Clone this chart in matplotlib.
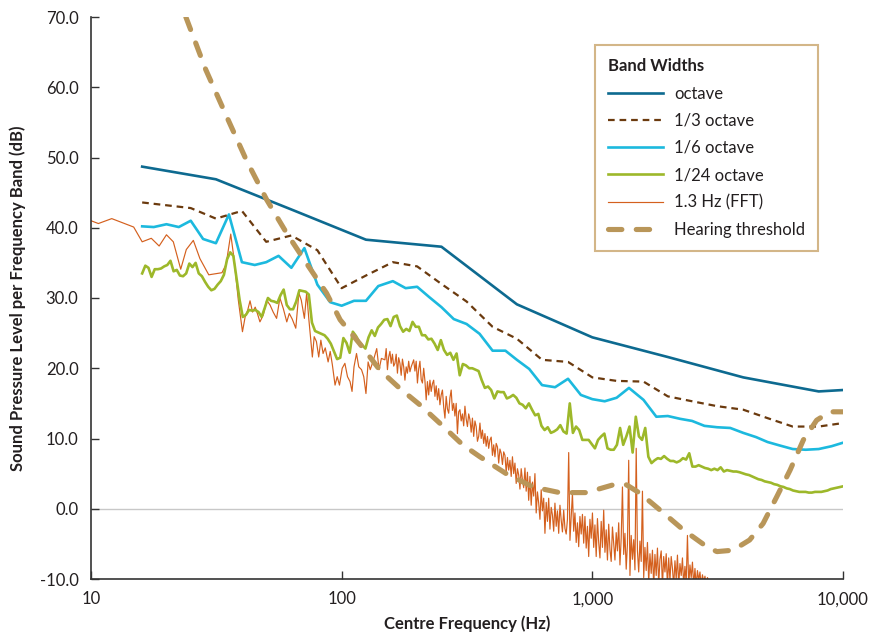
import numpy as np
import matplotlib
matplotlib.use("Agg")
import matplotlib.pyplot as plt
from matplotlib.ticker import FixedLocator, FixedFormatter, NullLocator

# ---------------- data ----------------
oct_f = [16, 31.5, 63, 125, 250, 500, 1000, 2000, 4000, 8000, 10000]
oct_db = [48.7, 46.9, 42.6, 38.3, 37.3, 29.1, 24.4, 21.6, 18.7, 16.7, 16.9]

third_f = [16, 20, 25, 31.5, 40, 50, 63, 80, 100, 125, 160, 200, 250, 315, 400,
           500, 630, 800, 1000, 1250, 1600, 2000, 2500, 3150, 4000, 5000, 6300,
           8000, 10000]
third_db = [43.6, 43.2, 42.8, 41.3, 42.4, 38.0, 38.9, 36.8, 31.4, 33.2, 35.1,
            34.5, 32.0, 29.5, 25.9, 24.2, 21.2, 20.9, 18.7, 18.2, 18.1, 16.0,
            15.3, 14.6, 14.1, 12.9, 11.7, 11.7, 12.2]

sixth_f = [16, 17.8, 20, 22.4, 25, 28, 31.5, 35.5, 40, 45, 50, 56, 63, 71, 80,
           90, 100, 112, 125, 140, 160, 180, 200, 224, 250, 280, 315, 355, 400,
           450, 500, 560, 630, 710, 800, 900, 1000, 1120, 1250, 1400, 1600,
           1800, 2000, 2240, 2500, 2800, 3150, 3550, 4000, 4500, 5000, 5600,
           6300, 7100, 8000, 9000, 10000]
sixth_db = [40.2, 40.1, 40.5, 40.1, 41.0, 38.4, 37.8, 41.9, 35.1, 34.7, 35.1,
            36.0, 34.3, 37.1, 31.9, 29.4, 28.9, 29.6, 29.6, 31.7, 32.4, 31.4,
            31.6, 30.1, 28.7, 27.0, 26.3, 24.9, 22.5, 22.5, 21.2, 19.9, 17.6,
            17.3, 18.5, 16.2, 15.6, 15.3, 15.8, 17.2, 15.5, 13.1, 13.2, 12.8,
            12.5, 11.8, 11.6, 11.5, 10.8, 10.2, 9.5, 9.0, 8.5, 8.4, 8.5, 8.9,
            9.4]

# 1/24 octave bands starting at 16 Hz
f24_start = 16.0
db24 = [
    33.5, 34.6, 34.3, 33.0, 34.1, 34.1, 34.2, 34.5, 34.7, 35.3,
    33.8, 34.0, 33.2, 33.1, 33.5, 34.9, 34.4, 35.0, 33.5, 33.1,
    32.3, 31.6, 31.1, 31.3, 31.9, 32.4, 33.3, 35.5, 36.5, 36.0,
    32.8, 29.7, 27.3, 27.6, 28.3, 28.2, 28.3, 28.0, 27.3, 28.6,
    30.0, 29.6, 29.5, 29.3, 30.4, 31.2, 29.0, 28.4, 28.4, 29.5,
    31.1, 31.0, 30.9, 30.5, 26.5, 25.3, 25.1, 24.9, 24.7, 24.2,
    23.5, 22.4, 21.3, 21.5, 24.3, 23.6, 22.2, 25.2, 24.6, 23.8,
    23.3, 22.8, 24.4, 25.4, 24.6, 25.8, 26.3, 26.9, 27.0, 26.0,
    27.3, 27.5, 26.0, 25.2, 25.6, 25.3, 26.6, 25.9, 25.9, 24.7,
    24.7, 24.1, 24.2, 23.5, 22.6, 24.0, 22.6, 21.9, 22.2, 21.2,
    22.1, 19.0, 20.6, 20.4, 20.0, 20.0, 19.8, 19.6, 18.3, 17.2,
    17.4, 16.9, 15.7, 16.7, 16.6, 16.6, 15.7, 15.9, 16.2, 15.8,
    15.0, 14.8, 14.3, 15.0, 14.1, 13.3, 13.5, 11.8, 11.2, 11.6,
    10.8, 11.0, 11.3, 11.9, 11.0, 10.7, 15.0, 10.8, 11.7, 11.2,
    9.8, 9.8, 9.8, 9.2, 8.6, 9.8, 10.3, 10.7, 8.6, 8.4,
    8.4, 9.1, 11.5, 9.1, 10.3, 11.7, 8.0, 13.1, 10.3, 9.8,
    11.5, 7.4, 6.5, 6.9, 7.2, 7.1, 7.5, 7.1, 6.8, 6.8,
    6.6, 6.8, 7.2, 7.0, 7.9, 6.0, 6.0, 6.2, 6.0, 5.8,
    5.7, 5.5, 5.7, 5.5, 5.9, 5.3, 5.5, 5.4, 5.3, 5.3,
    5.2, 5.05, 4.9, 4.8, 4.6, 4.4, 4.2, 4.1, 3.9, 3.8,
    3.7, 3.5, 3.4, 3.2, 3.1, 2.9, 2.8, 2.6, 2.5, 2.4,
    2.4, 2.4, 2.3, 2.3, 2.4, 2.4, 2.4, 2.5, 2.6, 2.8,
    2.9, 3.0, 3.1, 3.2,
]

# FFT (1.3 Hz) - low-frequency part, individual points
fft_lo_f = [10, 10.7, 12.1, 13.4, 14.8, 16.0, 17.4, 18.7, 20.0, 21.3, 22.8,
            24.0, 25.6, 27.2, 29.5, 33.3, 34.6, 36.1, 37.2, 38.7, 40.2, 41.2,
            42.2, 43.1, 44.1, 45.2, 46.2, 47.2, 48.7, 50.2, 51.8, 53.3, 55.0,
            56.7, 58.5, 60.4, 61.8, 63.5, 65.6, 67.5, 69.0, 71.0, 72.5, 74.0,
            76.4, 77.7, 79.3, 81.0, 82.6, 84.3, 86.0, 88.3, 90.0, 91.8, 94.1,
            96.0, 98.0, 100.5, 103.0, 105.5, 108.0, 110.0, 112.0, 114.6,
            117.0, 120.0, 122.5, 125.0, 127.5, 130.0, 134.0, 138.0, 141.0,
            144.0]
fft_lo_db = [41.0, 40.6, 41.3, 40.7, 40.1, 38.0, 38.5, 37.4, 39.0, 38.0, 34.1,
             36.9, 38.2, 35.6, 33.3, 33.6, 34.8, 39.1, 35.6, 29.7, 25.2, 27.3,
             28.3, 29.6, 28.0, 28.7, 27.7, 26.6, 27.6, 29.7, 29.0, 28.0, 27.1,
             30.0, 28.5, 26.6, 27.8, 27.0, 25.7, 30.7, 29.7, 27.1, 30.7, 26.9,
             21.6, 24.5, 23.8, 21.6, 24.0, 22.1, 22.9, 20.9, 22.4, 20.5, 17.6,
             18.8, 17.6, 20.0, 20.7, 18.8, 18.1, 16.7, 20.2, 22.1,
             20.2, 19.8, 18.8, 16.4, 20.9, 19.8, 21.2, 22.8, 19.8,
             21.4]

# FFT - dense part, evenly spaced (log) from 149 Hz to 2980 Hz
fft_hi_start, fft_hi_stop = 148.8, 2980.0
fft_hi_db = [
    21.2, 22.8, 19.8, 21.6, 22.4, 20.7, 22.0, 20.3,
    20.7, 22.0, 19.3, 21.5, 20.7, 19.0, 21.3, 20.2,
    18.3, 20.2, 19.3, 21.0, 19.5, 20.2, 20.7, 21.2,
    19.6, 21.0, 17.9, 19.9, 21.0, 18.4, 17.9, 20.0,
    18.2, 15.5, 18.1, 16.2, 18.3, 16.7, 17.8, 18.3,
    16.0, 17.5, 15.5, 17.1, 14.8, 16.2, 16.9, 14.5,
    12.9, 16.0, 14.2, 13.6, 15.8, 16.9, 14.0, 15.0,
    13.2, 15.0, 10.7, 13.8, 14.1, 12.5, 13.5, 11.8,
    14.6, 12.8, 11.7, 13.5, 12.7, 10.9, 12.9, 10.3,
    12.5, 11.7, 9.6, 10.3, 12.2, 10.0, 11.2, 9.3,
    10.7, 8.9, 10.3, 8.6, 9.8, 10.2, 7.6, 9.1,
    7.4, 9.3, 8.8, 6.5, 8.5, 7.9, 6.3, 8.1,
    7.6, 5.2, 7.3, 5.5, 6.9, 4.6, 7.4, 5.0,
    6.5, 3.6, 5.7, 4.8, 2.8, 5.7, 4.1, 3.0,
    5.8, 2.5, 5.2, 1.2, 4.6, 0.5, 3.8, 1.8,
    5.0, -0.6, 2.4, 0.8, -1.5, 2.7, -0.3, 1.5,
    -3.5, 0.9, -1.8, 1.5, -2.9, 0.2, -0.9, -3.2,
    0.8, -2.5, -0.3, -3.5, 0.5, -1.6, -3.3, -0.2,
    -2.8, -3.6, -1.5, 8.0, -4.5, -1.0, 2.2, -3.2,
    -0.6, -4.8, -2.0, -5.4, -1.1, -3.6, -0.8, -4.9,
    -1.1, -5.6, -2.5, -6.8, -1.5, -4.2, -0.6, -5.5,
    -2.3, -6.8, -1.4, -4.8, -7.0, -1.8, -5.5, -0.2,
    -6.2, -3.0, -7.3, -2.2, -5.8, -7.5, -2.6, -5.0,
    -7.3, -3.4, -6.0, -2.0, -8.0, -4.2, 3.1, -6.5,
    -3.5, -8.6, -5.0, 6.9, -9.5, -3.8, -7.2, -4.4,
    -8.7, 8.6, -6.0, -9.0, -4.6, -7.5, 2.5, -9.8,
    -5.5, -8.8, -4.8, -10.5, -6.4, -9.2, -5.9, -11.0,
    -6.5, -9.5, -5.6, -10.8, -7.2, -6.0, -11.0, -6.8,
    -9.0, -6.4, -11.0, -7.0, -10.2, -6.8, -8.5, -11.0,
    -7.4, -10.0, -6.6, -11.0, -7.8, -9.5, -7.0, -11.0,
    -8.2, -10.5, -3.8, -11.0, -8.0, -9.8, -7.6, -11.0,
    -8.5, -11.0, -8.8, -10.2, -9.0, -11.0, -9.4, -10.5,
    -9.6, -11.0, -9.8, -10.3, -11.0, -12.0,
]

thr_f = [23.9, 28.7, 34.8, 41.7, 50.2, 60.4, 72.5, 87.0, 98.6, 118, 142, 171,
         205, 246, 304, 356, 453, 580, 740, 946, 1210, 1370, 1550, 1865, 2306,
         2860, 3140, 3640, 4240, 4800, 5440, 6150, 6950, 7850, 8870, 10000]
thr_db = [70.0, 62.5, 55.8, 49.6, 44.0, 39.2, 34.9, 30.7, 26.9, 23.5, 19.75,
          17.1, 14.8, 12.2, 9.1, 7.4, 5.0, 3.1, 2.3, 2.3, 3.4, 3.4, 2.2, -0.2,
          -3.0, -5.4, -6.1, -5.9, -4.45, -2.1, 1.7, 5.5, 9.8, 12.6, 13.8, 13.8]

xticks = [10, 100, 1000, 10000]
xtick_labels = ["10", "100", "1,000", "10,000"]
yticks = [-10, 0, 10, 20, 30, 40, 50, 60, 70]

labels = ["octave", "1/3 octave", "1/6 octave", "1/24 octave", "1.3 Hz (FFT)",
          "Hearing threshold"]

# ---------------- styling ----------------
plt.rcParams['font.family'] = ['Lato', 'DejaVu Sans']
C_OCT = "#0d6a90"
C_THIRD = "#6b3a0e"
C_SIXTH = "#1cb9de"
C_24 = "#9db82a"
C_FFT = "#d4601e"
C_THR = "#b99659"
TXT = "#231f20"

fig = plt.figure(figsize=(8.70, 6.33), dpi=100)
ax = fig.add_axes([91 / 870, 1 - 579 / 633, (843 - 91) / 870, (579 - 17) / 633])

f24 = f24_start * 2.0 ** (np.arange(len(db24)) / 24.0)
fft_hi_f = np.geomspace(fft_hi_start, fft_hi_stop, len(fft_hi_db))
fft_f = np.concatenate([fft_lo_f, fft_hi_f])
fft_db = np.concatenate([fft_lo_db, fft_hi_db])

ax.axhline(0, color="#c8c8c8", lw=1.0, zorder=1)

l_fft, = ax.plot(fft_f, fft_db, color=C_FFT, lw=0.85, zorder=2)
l_24, = ax.plot(f24, db24, color=C_24, lw=1.9, zorder=3)
l_6, = ax.plot(sixth_f, sixth_db, color=C_SIXTH, lw=1.9, zorder=4)
l_3, = ax.plot(third_f, third_db, color=C_THIRD, lw=1.6, zorder=5,
               dashes=(3.0, 2.2))
l_o, = ax.plot(oct_f, oct_db, color=C_OCT, lw=1.9, zorder=6)
l_t, = ax.plot(thr_f, thr_db, color=C_THR, lw=3.7, zorder=7,
               dashes=(2.6, 2.8), dash_capstyle="round")

ax.set_xscale("log")
ax.set_xlim(10, 10000)
ax.set_ylim(-10, 70)
ax.xaxis.set_major_locator(FixedLocator(xticks))
ax.xaxis.set_major_formatter(FixedFormatter(xtick_labels))
ax.xaxis.set_minor_locator(NullLocator())
ax.set_yticks(yticks)
ax.set_yticklabels([f"{v:.1f}" for v in yticks])

for s in ["top", "right"]:
    ax.spines[s].set_visible(False)
for s in ["left", "bottom"]:
    ax.spines[s].set_color("#333333")
    ax.spines[s].set_linewidth(1.2)

ax.tick_params(axis="both", direction="in", length=6, width=1.0,
               color="#333333", labelsize=12, labelcolor=TXT)
ax.tick_params(axis="x", pad=9)
ax.tick_params(axis="y", pad=9)

ax.set_xlabel("Centre Frequency (Hz)", fontsize=12, fontweight="bold",
              color=TXT, labelpad=6)
ax.set_ylabel("Sound Pressure Level per Frequency Band (dB)", fontsize=12,
              fontweight="bold", color=TXT, labelpad=10)

leg = ax.legend([l_o, l_3, l_6, l_24, l_fft, l_t], labels,
                title="Band Widths", loc="upper right",
                bbox_to_anchor=(0.967, 0.950), borderaxespad=0.0,
                fancybox=False, frameon=True,
                edgecolor="#c9a46a", fontsize=12, title_fontsize=12,
                handlelength=3.3, handletextpad=0.65, labelspacing=0.67,
                borderpad=0.8, alignment="left")
leg.get_title().set_fontweight("bold")
leg.get_frame().set_linewidth(1.5)
for t in leg.get_texts():
    t.set_color(TXT)
leg.get_title().set_color(TXT)

fig.savefig("out.png", dpi=100)
